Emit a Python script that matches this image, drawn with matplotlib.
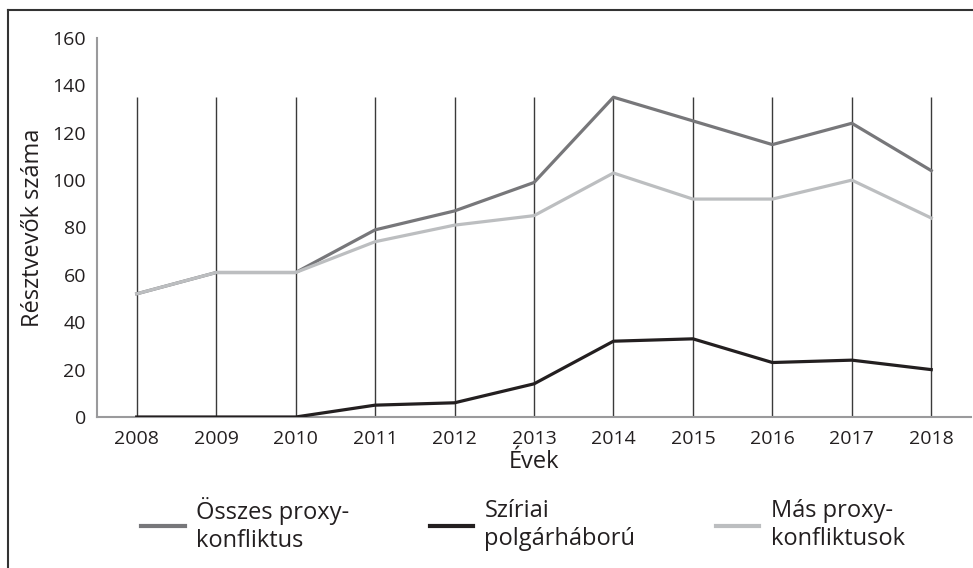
import matplotlib
matplotlib.use("Agg")
import matplotlib.pyplot as plt
from matplotlib.lines import Line2D

plt.rcParams['font.family'] = ['Open Sans', 'DejaVu Sans']

years = ['2008', '2009', '2010', '2011', '2012', '2013', '2014', '2015', '2016', '2017', '2018']
osszes = [52, 61, 61, 79, 87, 99, 135, 125, 115, 124, 104]
sziriai = [0, 0, 0, 5, 6, 14, 32, 33, 23, 24, 20]
mas = [52, 61, 61, 74, 81, 85, 103, 92, 92, 100, 84]
labels = ['Összes proxy-\nkonfliktus', 'Szíriai\npolgárháború', 'Más proxy-\nkonfliktusok']

c_total = '#77777a'
c_syria = '#231f20'
c_other = '#bcbec0'
txt = '#231f20'

fig = plt.figure(figsize=(9.73, 5.68), dpi=100)
ax = fig.add_axes([97/973, 151/568, 874/973, 379/568])

x = list(range(len(years)))
# vertical lines from zero up to the top of the total series
ax.vlines(x, 0, max(osszes), colors='#3a3a3a', linewidth=1.0, zorder=1)

ax.plot(x, mas, color=c_other, linewidth=2.3, zorder=3)
ax.plot(x, osszes, color=c_total, linewidth=2.3, zorder=2)
ax.plot(x, sziriai, color=c_syria, linewidth=2.3, zorder=4)

ax.set_xlim(-0.5, len(years) - 0.5)
ax.set_ylim(0, 160)
ax.set_yticks(range(0, 161, 20))
ax.set_xticks(x)
ax.set_xticklabels(years)
ax.tick_params(length=0, labelsize=14, labelcolor=txt)
ax.tick_params(axis='y', pad=8)
ax.tick_params(axis='x', pad=9)

for s in ['top', 'right']:
    ax.spines[s].set_visible(False)
for s in ['left', 'bottom']:
    ax.spines[s].set_color('#9a9a9c')
    ax.spines[s].set_linewidth(1.5)

ax.set_ylabel('Résztvevők száma', fontsize=17, color=txt, labelpad=5)
ax.set_xlabel('Évek', fontsize=17, color=txt, labelpad=2)

handles = [Line2D([], [], color=c, linewidth=3) for c in (c_total, c_syria, c_other)]
leg = fig.legend(handles, labels, loc='center', bbox_to_anchor=(523/973, 1 - 525/568),
                 ncol=3, frameon=False, fontsize=17, handlelength=1.85,
                 handletextpad=0.47, columnspacing=3.4)
for t in leg.get_texts():
    t.set_color(txt)

# outer frame (top and left edges visible)
fig.add_artist(Line2D([8/973, 8/973], [0, 1 - 10/568], transform=fig.transFigure,
                      color='#333333', linewidth=1.5))
fig.add_artist(Line2D([8/973, 1], [1 - 10/568, 1 - 10/568], transform=fig.transFigure,
                      color='#333333', linewidth=1.5))

fig.savefig('out.png', dpi=100)
